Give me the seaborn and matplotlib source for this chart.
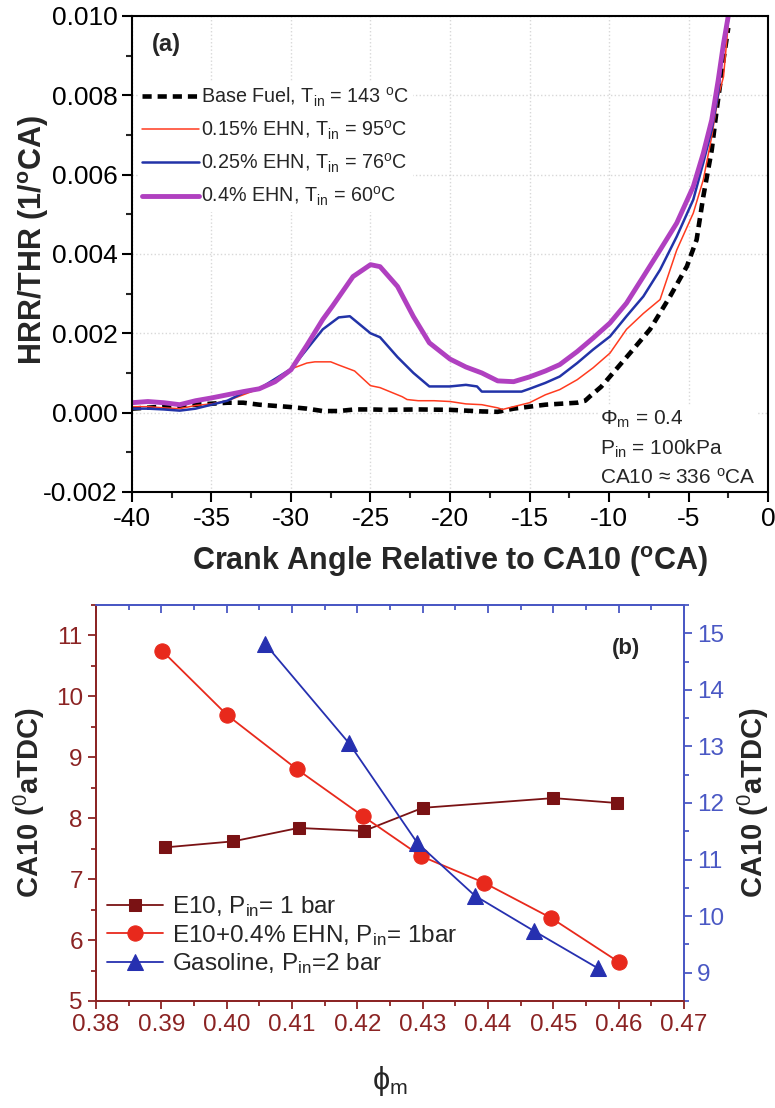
import numpy as np
import pandas as pd
import matplotlib
matplotlib.use("Agg")
import matplotlib.pyplot as plt
import seaborn as sns
from matplotlib.ticker import MultipleLocator

sns.set_theme(style="white")
plt.rcParams['font.family'] = ['Liberation Sans', 'DejaVu Sans']
plt.rcParams['mathtext.fontset'] = 'custom'
plt.rcParams['mathtext.rm'] = 'Liberation Sans'
plt.rcParams['mathtext.it'] = 'Liberation Sans:italic'
plt.rcParams['mathtext.bf'] = 'Liberation Sans:bold'

# ---------------- Panel (a) data ----------------
base_x = [-40, -38, -36, -34, -33, -32, -30, -29, -28, -27, -26, -25, -24, -22, -20, -18, -17, -16,
          -14, -12, -11.5, -11.2, -10.5, -9.94, -8.68, -7.42, -6.16, -5.1, -4.49, -4.07, -3.54,
          -3.23, -2.8, -2.5]
base_y = [0.00010, 0.00015, 0.00020, 0.00025, 0.00025, 0.00020, 0.00014, 0.00010, 0.00004, 0.00004,
          0.00008, 0.00008, 0.00007, 0.00008, 0.00007, 0.00003, 0.00002, 0.00010,
          0.00020, 0.00025, 0.00030, 0.00041, 0.00065, 0.00091, 0.00150, 0.00210, 0.00293,
          0.00369, 0.00436, 0.00545, 0.00662, 0.00763, 0.00890, 0.00970]

ehn15_x = [-40, -39, -38, -37, -36, -35, -34, -33, -32, -31, -30, -29, -28.5, -28, -27.5, -27, -26,
           -25, -24.4, -23, -22.7, -22, -21, -20, -19, -18, -17, -16.7, -16, -15, -14, -13.1, -12,
           -11, -9.94, -8.9, -7.84, -6.79, -5.74, -4.7, -4.07, -3.54, -3.13, -2.8, -2.5]
ehn15_y = [0.00015, 0.00015, 0.00012, 0.00010, 0.00018, 0.00022, 0.00030, 0.00045, 0.00060, 0.00080,
           0.00110, 0.00125, 0.00128, 0.00128, 0.00128, 0.00120, 0.00105, 0.00068, 0.00063, 0.00040,
           0.00033, 0.00030, 0.00030, 0.00028, 0.00022, 0.00020, 0.00012, 0.00008, 0.00015, 0.00025,
           0.00045, 0.00058, 0.00083, 0.00113, 0.00150, 0.00210, 0.00250, 0.00285, 0.00410, 0.00503,
           0.00587, 0.00696, 0.00797, 0.00847, 0.00980]

ehn25_x = [-40, -39, -38, -37, -36, -35, -34, -33, -32, -31, -30, -29, -28, -27, -26.3, -25, -24.4,
           -23.3, -22.3, -21.3, -20, -19, -18.3, -18, -17, -16, -15.5, -15, -14, -13.1, -12, -11,
           -9.94, -8.9, -7.84, -6.79, -5.74, -4.7, -4.07, -3.54, -3.13, -2.8, -2.5]
ehn25_y = [0.00010, 0.00010, 0.00008, 0.00005, 0.00010, 0.00020, 0.00030, 0.00050, 0.00060, 0.00085,
           0.00110, 0.00160, 0.00210, 0.00240, 0.00243, 0.00200, 0.00190, 0.00140, 0.00100, 0.00066,
           0.00066, 0.00070, 0.00066, 0.00053, 0.00053, 0.00053, 0.00053, 0.00060, 0.00075, 0.00091,
           0.00125, 0.00159, 0.00192, 0.00243, 0.00293, 0.00360, 0.00444, 0.00537, 0.00630, 0.00713,
           0.00806, 0.00930, 0.00990]

ehn40_x = [-40, -39, -38, -37, -36, -35, -34, -33, -32, -31, -30, -29, -28, -27.4, -26.1, -25, -24.4,
           -23.3, -22.3, -21.3, -20, -19, -18, -17, -16, -15, -14, -13.1, -12, -11, -9.94, -8.9,
           -7.84, -6.79, -5.74, -4.7, -4.07, -3.54, -3.13, -2.8, -2.5]
ehn40_y = [0.00025, 0.00028, 0.00025, 0.00020, 0.00030, 0.00037, 0.00045, 0.00053, 0.00060, 0.00078,
           0.00108, 0.00170, 0.00235, 0.00268, 0.00343, 0.00373, 0.00368, 0.00318, 0.00242, 0.00176,
           0.00135, 0.00115, 0.00100, 0.00080, 0.00078, 0.00090, 0.00105, 0.00121, 0.00154, 0.00188,
           0.00226, 0.00276, 0.00343, 0.00410, 0.00478, 0.00570, 0.00654, 0.00738, 0.00839, 0.00930,
           0.01000]

labels_a = ['Base Fuel, T$_{\\mathrm{in}}$ = 143 $^{\\mathrm{o}}$C',
            '0.15% EHN, T$_{\\mathrm{in}}$ = 95$^{\\mathrm{o}}$C',
            '0.25% EHN, T$_{\\mathrm{in}}$ = 76$^{\\mathrm{o}}$C',
            '0.4% EHN, T$_{\\mathrm{in}}$ = 60$^{\\mathrm{o}}$C']

# ---------------- Panel (b) data ----------------
e10_phi = [0.3905, 0.401, 0.411, 0.421, 0.430, 0.450, 0.4597]
e10_ca10 = [7.52, 7.62, 7.84, 7.79, 8.17, 8.33, 8.25]
ehn_phi = [0.3901, 0.4001, 0.4108, 0.4209, 0.4297, 0.4394, 0.4497, 0.4600]
ehn_ca10 = [10.75, 9.69, 8.80, 8.03, 7.38, 6.94, 6.36, 5.64]
gas_phi = [0.4059, 0.4187, 0.4292, 0.4380, 0.4470, 0.4568]
gas_ca10 = [14.81, 13.06, 11.29, 10.36, 9.74, 9.08]

labels_b = ['E10, P$_{\\mathrm{in}}$= 1 bar',
            'E10+0.4% EHN, P$_{\\mathrm{in}}$= 1bar',
            'Gasoline, P$_{\\mathrm{in}}$=2 bar']

# ---------------- Figure ----------------
fig = plt.figure(figsize=(7.75, 11.08), dpi=100)
ax1 = fig.add_axes([0.1703, 0.556, 0.8207, 0.4296])

c_black = '#000000'
c_red = '#FF3B1F'
c_blue = '#2233A8'
c_mag = '#B040C0'

sns.lineplot(x=base_x, y=base_y, ax=ax1, color=c_black, lw=3.3, label=labels_a[0], sort=False)
ax1.lines[-1].set_linestyle((0, (2.0, 1.3)))
sns.lineplot(x=ehn15_x, y=ehn15_y, ax=ax1, color=c_red, lw=1.1, label=labels_a[1], sort=False)
sns.lineplot(x=ehn25_x, y=ehn25_y, ax=ax1, color=c_blue, lw=1.8, label=labels_a[2], sort=False)
sns.lineplot(x=ehn40_x, y=ehn40_y, ax=ax1, color=c_mag, lw=3.5, label=labels_a[3], sort=False)

ax1.set_xlim(-40, 0)
ax1.set_ylim(-0.002, 0.010)
ax1.xaxis.set_major_locator(MultipleLocator(5))
ax1.xaxis.set_minor_locator(MultipleLocator(2.5))
ax1.yaxis.set_major_locator(MultipleLocator(0.002))
ax1.yaxis.set_minor_locator(MultipleLocator(0.001))
ax1.yaxis.set_major_formatter(matplotlib.ticker.FormatStrFormatter('%.3f'))
ax1.xaxis.set_major_formatter(matplotlib.ticker.FuncFormatter(lambda v, p: f'{int(round(v))}'))
ax1.grid(True, which='major', color='#d8d8d8', linestyle=':', linewidth=1.0)
ax1.tick_params(axis='both', which='major', direction='out', length=7, width=1.5,
                labelsize=19, colors='black', bottom=True, left=True, top=False, right=False)
ax1.tick_params(axis='both', which='minor', direction='out', length=4, width=1.5,
                bottom=True, left=True, top=False, right=False)
for s in ax1.spines.values():
    s.set_color('black')
    s.set_linewidth(1.5)
ax1.set_xlabel('Crank Angle Relative to CA10 ($^{\\mathbf{o}}$CA)', fontsize=22, fontweight='bold', labelpad=10)
ax1.set_ylabel('HRR/THR (1/$^{\\mathbf{o}}$CA)', fontsize=22, fontweight='bold', labelpad=5)
ax1.yaxis.set_label_coords(-0.128, 0.53)

leg1 = ax1.legend(loc='upper left', bbox_to_anchor=(0.0, 0.875), fontsize=14.2, frameon=True,
                  facecolor='white', edgecolor='none', framealpha=1, handlelength=2.9,
                  handletextpad=0.1, labelspacing=0.5, borderpad=0.2, borderaxespad=0.3)
ax1.text(0.031, 0.939, '(a)', transform=ax1.transAxes, fontsize=17, fontweight='bold', va='center')
ax1.text(0.736, 0.174, 'Φ$_{\\mathrm{m}}$ = 0.4\nP$_{\\mathrm{in}}$ = 100kPa\nCA10 ≈ 336 $^{\\mathrm{o}}$CA',
         transform=ax1.transAxes, fontsize=15, va='top', linespacing=1.44,
         bbox=dict(facecolor='white', edgecolor='none', pad=1))

# ---------------- Panel (b) ----------------
maroon = '#8B2323'
rblue = '#4A58C4'
ax2 = fig.add_axes([0.1239, 0.0966, 0.7587, 0.3574])
ax3 = ax2.twinx()

sns.lineplot(x=e10_phi, y=e10_ca10, ax=ax2, color='#7A1214', lw=1.3, marker='s', markersize=9,
             markeredgecolor='#7A1214', label=labels_b[0], sort=False)
sns.lineplot(x=ehn_phi, y=ehn_ca10, ax=ax2, color='#E8291C', lw=1.3, marker='o', markersize=11,
             markeredgecolor='#E8291C', label=labels_b[1], sort=False)
sns.lineplot(x=gas_phi, y=gas_ca10, ax=ax3, color='#2630B0', lw=1.3, marker='^', markersize=11,
             markeredgecolor='#2630B0', label=labels_b[2], sort=False)
if ax3.get_legend():
    ax3.get_legend().remove()
if ax2.get_legend():
    ax2.get_legend().remove()

ax2.set_xlim(0.38, 0.47)
ax2.set_ylim(5, 11.5)
ax3.set_ylim(8.5, 15.5)
ax2.xaxis.set_major_locator(MultipleLocator(0.01))
ax2.xaxis.set_minor_locator(MultipleLocator(0.005))
ax2.xaxis.set_major_formatter(matplotlib.ticker.FormatStrFormatter('%.2f'))
ax2.yaxis.set_major_locator(MultipleLocator(1))
ax2.yaxis.set_minor_locator(MultipleLocator(0.5))
ax3.yaxis.set_major_locator(MultipleLocator(1))
ax3.yaxis.set_minor_locator(MultipleLocator(0.5))

ax2.tick_params(axis='x', which='both', bottom=True, top=False, direction='out', colors=maroon,
                labelsize=17.5, width=1.3)
ax2.tick_params(axis='x', which='major', length=6)
ax2.tick_params(axis='x', which='minor', length=3.5)
ax2.tick_params(axis='y', which='both', left=True, right=False, direction='out', colors=maroon,
                labelsize=17.5, width=1.3)
ax2.tick_params(axis='y', which='major', length=6)
ax2.tick_params(axis='y', which='minor', length=3.5)
ax3.tick_params(axis='y', which='both', right=True, left=False, direction='out', colors=rblue,
                labelsize=17.5, width=1.3)
ax3.tick_params(axis='y', which='major', length=6)
ax3.tick_params(axis='y', which='minor', length=3.5)

secx = ax2.secondary_xaxis('top')
secx.xaxis.set_major_locator(MultipleLocator(0.01))
secx.xaxis.set_minor_locator(MultipleLocator(0.005))
secx.tick_params(axis='x', which='both', direction='in', colors=rblue, labeltop=False, width=1.3)
secx.tick_params(axis='x', which='major', length=6)
secx.tick_params(axis='x', which='minor', length=3.5)
secx.spines['top'].set_color(rblue)
secx.spines['top'].set_linewidth(1.3)

for ax in (ax2, ax3):
    ax.spines['left'].set_color(maroon)
    ax.spines['bottom'].set_color(maroon)
    ax.spines['top'].set_color(rblue)
    ax.spines['right'].set_color(rblue)
    for s in ax.spines.values():
        s.set_linewidth(1.3)

ax2.set_xlabel('ϕ$_{\\mathrm{m}}$', fontsize=22, labelpad=20)
ax2.set_ylabel('CA10 ($^{0}$aTDC)', fontsize=21, fontweight='bold', labelpad=6)
ax3.set_ylabel('CA10 ($^{0}$aTDC)', fontsize=21, fontweight='bold', labelpad=8)
ax2.text(0.877, 0.891, '(b)', transform=ax2.transAxes, fontsize=16, fontweight='bold', va='center')

h2, l2 = ax2.get_legend_handles_labels()
h3, l3 = ax3.get_legend_handles_labels()
ax2.legend(h2 + h3, l2 + l3, loc='lower left', bbox_to_anchor=(-0.01, 0.02), fontsize=17.5,
           frameon=False, handlelength=2.3, handletextpad=0.35, labelspacing=0.14, borderaxespad=0.3)

fig.savefig('out.png', dpi=100)
